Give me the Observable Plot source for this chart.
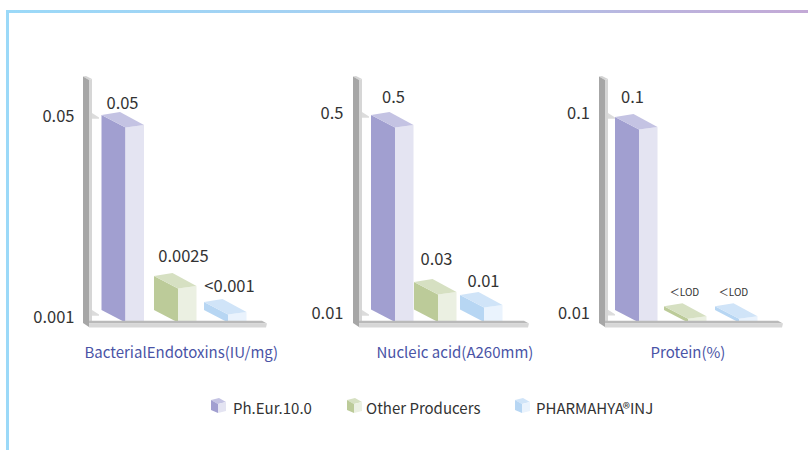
<!DOCTYPE html>
<html>
<head>
<meta charset="utf-8">
<script src="https://cdn.jsdelivr.net/npm/d3@7"></script>
<script src="https://cdn.jsdelivr.net/npm/@observablehq/plot@0.6"></script>
<style>
html,body{margin:0;padding:0;background:#fff;}
#chart{position:relative;width:808px;height:450px;overflow:hidden;font-family:"Noto Sans CJK SC","Noto Sans",sans-serif;}
#top{position:absolute;left:6px;top:10px;width:802px;height:3px;background:linear-gradient(90deg,#9bd9f8 0%,#a8cdf0 55%,#bbb4de 80%,#c3a9d6 100%);}
#left{position:absolute;left:6px;top:10px;width:3px;height:440px;background:#9bd9f8;}
#row{position:absolute;left:0;top:0;display:flex;}
#row svg{display:block;overflow:visible;background:transparent;}
#legend{position:absolute;left:0;top:395px;width:808px;height:26px;}
.item{position:absolute;top:0;height:26px;line-height:26px;font-size:15px;color:#333;white-space:nowrap;}
.item svg{position:absolute;left:0;top:3px;}
.item span{position:absolute;top:0;}
</style>
</head>
<body>
<div id="chart">
  <div id="top"></div>
  <div id="left"></div>
  <div id="row"></div>
  <div id="legend"></div>
</div>
<script>
// ---- data ----
const seriesNames = ["Ph.Eur.10.0", "Other Producers", "PHARMAHYA®INJ"];
const panelTitles = ["BacterialEndotoxins(IU/mg)", "Nucleic acid(A260mm)", "Protein(%)"];

const endotoxinValues = [0.05, 0.0025, 0.0009];
const endotoxinLabels = ["0.05", "0.0025", "<0.001"];
const endotoxinTicks = [0.05, 0.001];

const nucleicValues = [0.5, 0.03, 0.01];
const nucleicLabels = ["0.5", "0.03", "0.01"];
const nucleicTicks = [0.5, 0.01];

const proteinValues = [0.1, 0.002, 0.002];
const proteinLabels = ["0.1", "＜LOD", "＜LOD"];
const proteinTicks = [0.1, 0.01];

// ---- colours ----
const faceLeft  = ["#a19fd0", "#bccb99", "#b7d6f3"];
const faceRight = ["#e4e4f2", "#ebf0e2", "#eaf3fd"];
const faceTop   = ["#c4c3e3", "#d6e0c2", "#d0e4f8"];

// ---- layout of each panel (page pixels, turned local below) ----
const panels = [
  {
    origin: 0, width: 280, values: endotoxinValues, labels: endotoxinLabels, ticks: endotoxinTicks,
    post: 83, tickGap: 9, floorEnd: 267, xRange: [101.5, 154, 204],
    yDomain: [0, 0.0009, 0.0025, 0.05], yRange: [310, 302, 276, 115],
    tickDy: [1, 16.6], stubDy: [-2, 9.6],
    labelDx: [20.5, 29, 25], labelDy: [-12, -20, -16], labelSize: 16.5, titleX: 84
  },
  {
    origin: 280, width: 260, values: nucleicValues, labels: nucleicLabels, ticks: nucleicTicks,
    post: 353, tickGap: 10, floorEnd: 529, xRange: [371, 414, 460],
    yDomain: [0, 0.01, 0.03, 0.5], yRange: [309.5, 295, 282, 115],
    tickDy: [-2, 18], stubDy: [-3, 15],
    labelDx: [22, 22, 23], labelDy: [-18, -23, -14], labelSize: 16.5, titleX: 376
  },
  {
    origin: 540, width: 268, values: proteinValues, labels: proteinLabels, ticks: proteinTicks,
    post: 599, tickGap: 9.5, floorEnd: 783, xRange: [615, 664, 715],
    yDomain: [0, 0.1], yRange: [310, 117],
    tickDy: [-4, 22.5], stubDy: [-4, 19],
    labelDx: [17, 20, 18], labelDy: [-20, -14, -14], labelSize: 16.5, titleX: 650
  }
];

function poly(g, pts, fill) {
  g.append("polygon").attr("points", pts.map(p => p.join(",")).join(" ")).attr("fill", fill);
}

// A rule from 0 to the value, drawn as the prism of the reference.
function prism(index, scales, values) {
  const g = d3.create("svg:g");
  for (const i of index) {
    const L = values.x[i], top = values.y2[i], base = values.y1[i];
    const floor = base + 11;
    poly(g, [[L, top], [L + 24, top + 12.5], [L + 24, floor + 1.5], [L, base]], faceLeft[i]);
    poly(g, [[L + 24, top + 12.5], [L + 42.5, top + 10], [L + 42.5, floor + 1.5], [L + 24, floor + 1.5]], faceRight[i]);
    poly(g, [[L, top], [L + 18.5, top - 3], [L + 42.5, top + 10], [L + 24, top + 12.5]], faceTop[i]);
  }
  return g.node();
}

function stub(x, extra) {
  return function (index, scales, values) {
    const g = d3.create("svg:g");
    for (const i of index) {
      const t = values.y[i] + extra;
      poly(g, [[x, t], [x + 7, t + 4.5], [x + 7, t + 5.8], [x, t + 5.8]], "#dcdcdc");
    }
    return g.node();
  };
}

function chrome(x0, xEnd) {
  const g = d3.create("svg:g");
  // vertical post
  poly(g, [[x0, 76.5], [x0 + 3, 76], [x0 + 9, 79], [x0 + 6, 80]], "#d4d4d4");
  poly(g, [[x0 + 6, 80], [x0 + 9, 79], [x0 + 9, 321], [x0 + 6, 323]], "#d6d6d6");
  poly(g, [[x0, 76.5], [x0 + 6, 80], [x0 + 6, 327], [x0, 323]], "#a6a6a6");
  // floor
  poly(g, [[x0 + 6, 320.7], [xEnd - 5, 320.7], [xEnd, 323.5], [x0 + 6, 323.5]], "#b9b9b9");
  poly(g, [[x0 + 6, 323.5], [xEnd, 323.5], [xEnd - 1, 327.5], [x0 + 6, 327.5]], "#d7d7d7");
  return g.node();
}

const row = document.getElementById("row");

panels.forEach((p, pi) => {
  const o = p.origin;
  const rows = p.values.map((v, i) => ({ series: i, value: v, label: p.labels[i] }));
  const xLocal = p.xRange.map(v => v - o);
  const post = p.post - o;
  const axisX = post - p.tickGap;

  // piecewise value-to-pixel mappings, because the reference's axis is not linear
  const xMap = d3.scaleLinear().domain(xLocal.map((_, i) => i)).range(xLocal);
  const yMap = d3.scaleLinear().domain(p.yDomain).range(p.yRange);
  const [xa, xb] = [xLocal[0], xLocal[2]];
  const [ya, yb] = [p.yRange[0], p.yRange[p.yRange.length - 1]];

  const marks = [
    // stubs on the post, at the two ticks
    ...p.ticks.map((t, i) => Plot.ruleY([t], { y: d => d, render: stub(post + 9, p.stubDy[i]) })),
    // tick labels
    ...p.ticks.map((t, i) => Plot.text([t], {
      y: d => d, text: d => String(d), frameAnchor: "left", textAnchor: "end",
      dy: p.tickDy[i], fontSize: 16.5, fill: "#333"
    })),
    // bars
    Plot.ruleX(rows, {
      x: "series", y1: () => 0, y2: "value",
      render(index, scales, values) { return prism(index, scales, values); }
    }),
    () => chrome(post, p.floorEnd - o),
    // value labels
    ...rows.map((r, i) => Plot.text([r], {
      x: "series", y: "value", text: "label",
      dx: p.labelDx[i], dy: p.labelDy[i],
      fontSize: r.label.includes("LOD") ? 10 : p.labelSize,
      fill: "#333"
    })),
    // panel title
    Plot.text([panelTitles[pi]], {
      frameAnchor: "bottom-left", text: d => d, textAnchor: "start", lineAnchor: "middle",
      dx: p.titleX - o - axisX, dy: 0, fontSize: 15, fill: "#4a54a6"
    })
  ];

  const plot = Plot.plot({
    width: p.width,
    height: 353,
    marginLeft: axisX,
    marginRight: 0,
    marginTop: 0,
    marginBottom: 0,
    style: { fontFamily: '"Noto Sans CJK SC","Noto Sans",sans-serif', background: "transparent", overflow: "visible" },
    x: { type: "linear", transform: xMap, domain: [xa, xb], range: [xa, xb], axis: null },
    y: { type: "linear", transform: yMap, domain: [ya, yb], range: [ya, yb], axis: null },
    marks
  });
  row.appendChild(plot);
});

// ---- legend, below the plots ----
const legend = d3.select("#legend");
const legendPos = [[211, 233], [347, 366], [515, 536]];
seriesNames.forEach((name, i) => {
  const item = legend.append("div").attr("class", "item")
    .style("left", legendPos[i][0] + "px");
  const s = item.append("svg").attr("width", 16).attr("height", 16);
  poly(s, [[0, 2], [8, 0], [15, 4], [7, 6]], faceTop[i]);
  poly(s, [[0, 2], [7, 6], [7, 15], [0, 12]], faceLeft[i]);
  poly(s, [[7, 6], [15, 4], [15, 13], [7, 15]], faceRight[i]);
  item.append("span").style("left", (legendPos[i][1] - legendPos[i][0]) + "px").text(name);
});
</script>
</body>
</html>
